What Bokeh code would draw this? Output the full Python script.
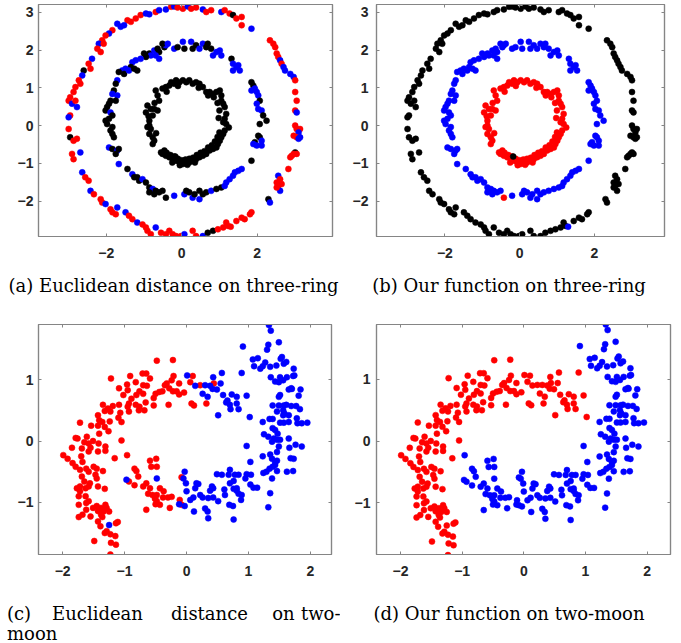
from bokeh.plotting import figure
from bokeh.models import Range1d, LinearAxis, FixedTicker, Label, ColumnDataSource
from bokeh.layouts import column, row
from bokeh.embed import file_html
from bokeh.resources import INLINE

# ---------------- three-ring data (x, y, colour in panel a) ----------------
# outer ring: black in (b)
outer_ring = [
    (-1.09, 2.93, "r"), (-0.95, 2.97, "b"), (-0.86, 2.95, "b"), (-0.69, 3.01, "r"), (-0.60, 3.06, "b"),
    (-0.42, 3.08, "b"), (-0.28, 3.15, "r"), (-0.20, 3.16, "b"), (-0.11, 3.13, "r"), (0.03, 3.10, "r"),
    (0.16, 3.16, "b"), (0.25, 3.10, "r"), (0.38, 3.13, "r"), (0.56, 3.08, "b"), (0.65, 3.01, "r"),
    (0.78, 3.06, "r"), (1.05, 3.01, "b"), (1.14, 3.06, "r"), (1.27, 2.97, "r"), (1.36, 2.93, "k"),
    (1.45, 2.84, "r"), (1.59, 2.88, "r"), (1.59, 2.66, "r"), (1.85, 2.57, "b"),
    (-1.22, 2.84, "r"), (-1.35, 2.75, "r"), (-1.44, 2.79, "r"), (-1.53, 2.66, "b"), (-1.62, 2.62, "b"),
    (-1.71, 2.70, "b"), (-1.84, 2.53, "r"), (-1.93, 2.44, "b"), (-2.02, 2.39, "r"), (-2.11, 2.26, "r"),
    (-2.20, 2.17, "b"), (-2.24, 2.04, "r"), (-2.15, 1.95, "r"), (-2.07, 2.17, "r"), (-2.38, 1.77, "b"),
    (-2.47, 1.64, "r"), (-2.42, 1.51, "r"), (-2.60, 1.46, "k"), (-2.64, 1.33, "b"), (-2.73, 1.20, "r"),
    (-2.69, 1.11, "r"), (-2.82, 1.02, "r"), (-2.87, 0.89, "r"), (-2.96, 0.75, "r"), (-3.00, 0.66, "r"),
    (-2.91, 0.58, "b"), (-2.78, 0.49, "b"), (-2.82, 0.66, "r"), (-2.96, 0.27, "r"), (-3.00, 0.22, "b"),
    (-3.00, -0.09, "r"), (-2.96, -0.31, "k"), (-2.87, -0.40, "r"), (-2.78, -0.35, "r"), (-2.91, -0.75, "r"),
    (-2.69, -0.71, "b"), (-2.87, -0.89, "r"),
    (-2.64, -1.24, "b"), (-2.56, -1.37, "r"), (-2.47, -1.46, "r"), (-2.42, -1.73, "b"), (-2.33, -1.82, "r"),
    (-2.15, -1.95, "r"), (-2.11, -2.04, "r"), (-2.02, -2.08, "b"), (-1.89, -2.22, "r"), (-1.84, -2.30, "r"),
    (-1.75, -2.35, "r"), (-1.71, -2.17, "b"), (-1.49, -2.30, "b"), (-1.40, -2.39, "r"), (-1.31, -2.48, "r"),
    (-1.18, -2.57, "b"), (-1.04, -2.62, "r"), (-0.95, -2.70, "r"), (-0.91, -2.79, "r"), (-0.82, -2.88, "r"),
    (-0.69, -2.70, "b"), (-0.55, -2.84, "r"), (-0.42, -2.88, "r"), (-0.33, -2.79, "r"), (-0.24, -2.88, "r"),
    (-0.15, -2.93, "r"), (-0.02, -2.93, "r"), (0.07, -2.88, "b"), (0.29, -2.79, "r"), (0.38, -2.93, "r"),
    (0.56, -2.93, "b"), (0.69, -2.84, "k"), (0.83, -2.79, "k"), (0.96, -2.75, "r"), (1.10, -2.70, "r"),
    (1.18, -2.57, "r"), (1.23, -2.66, "r"), (1.45, -2.53, "r"), (1.59, -2.44, "r"), (1.67, -2.48, "r"),
    (1.81, -2.35, "r"), (1.85, -2.30, "r"),
    (2.34, 2.26, "r"), (2.43, 2.17, "r"), (2.48, 2.08, "r"), (2.52, 1.91, "r"), (2.56, 1.82, "r"),
    (2.61, 1.73, "b"), (2.65, 1.64, "r"), (2.70, 1.55, "b"), (2.74, 1.46, "b"), (2.88, 1.37, "b"),
    (2.97, 1.29, "b"), (3.01, 1.20, "r"), (3.01, 0.89, "r"), (3.05, 0.66, "r"), (3.01, 0.40, "r"),
    (3.05, 0.35, "b"),
    (3.01, 0.00, "r"), (3.05, -0.09, "r"), (3.14, -0.09, "r"), (3.10, -0.18, "b"), (3.05, -0.31, "r"),
    (2.97, -0.27, "r"), (3.10, -0.35, "b"), (3.14, -0.31, "b"), (3.01, -0.71, "k"), (2.97, -0.75, "r"),
    (2.92, -0.80, "r"), (3.05, -0.75, "r"), (2.88, -0.84, "r"),
    (2.83, -1.15, "r"), (2.56, -1.33, "b"), (2.61, -1.42, "r"), (2.52, -1.51, "r"), (2.56, -1.60, "r"),
    (2.65, -1.55, "r"), (2.61, -1.73, "b"), (2.52, -1.64, "r"), (2.30, -1.95, "k"), (2.34, -2.04, "b"),
]

# middle ring: blue in (b)
middle_ring = [
    (-0.86, 1.91, "k"), (-0.73, 1.99, "b"), (-0.64, 2.04, "k"), (-0.60, 1.95, "k"), (-0.46, 2.08, "k"),
    (-0.42, 2.13, "b"), (-0.51, 2.17, "k"), (-0.37, 2.17, "b"), (-0.60, 1.77, "b"), (-0.69, 1.86, "b"),
    (-0.82, 1.86, "b"), (-0.95, 1.82, "k"), (-1.00, 1.91, "k"), (-1.09, 1.77, "b"), (-1.22, 1.73, "b"),
    (-1.31, 1.68, "b"), (-1.35, 1.55, "k"), (-1.49, 1.51, "b"), (-1.58, 1.46, "b"), (-1.67, 1.42, "k"),
    (-1.53, 1.37, "k"), (-1.40, 1.46, "b"), (-1.26, 1.51, "k"), (-1.18, 1.46, "k"), (-0.20, 2.04, "b"),
    (-0.11, 2.08, "k"), (0.03, 2.22, "b"), (0.07, 2.04, "k"), (0.25, 2.22, "b"), (0.29, 2.04, "k"),
    (0.38, 2.13, "k"), (0.47, 2.04, "b"), (0.56, 2.17, "b"), (0.65, 2.08, "k"), (0.69, 2.17, "k"),
    (0.78, 2.04, "k"), (0.83, 1.86, "b"), (0.92, 1.95, "b"), (1.01, 1.99, "b"), (1.05, 1.86, "b"),
    (1.32, 1.77, "k"), (1.36, 1.64, "b"), (1.45, 1.55, "b"), (1.54, 1.46, "b"), (1.36, 1.46, "b"),
    (1.50, 1.60, "b"),
    (-1.71, 1.20, "b"), (-1.75, 1.11, "k"), (-1.80, 0.93, "k"), (-1.84, 0.84, "b"), (-1.71, 0.80, "b"),
    (-1.75, 0.66, "k"), (-1.89, 0.66, "k"), (-1.93, 0.58, "k"), (-1.98, 0.49, "k"), (-2.02, 0.40, "k"),
    (-1.89, 0.35, "b"), (-1.84, 0.27, "k"), (-1.93, 0.18, "k"), (-2.02, 0.13, "k"), (-1.98, 0.04, "k"),
    (-1.84, -0.04, "k"), (-1.89, -0.13, "k"), (-1.84, -0.22, "k"), (-1.80, -0.31, "k"), (-1.93, -0.58, "b"),
    (-1.84, -0.62, "k"), (-1.71, -0.66, "b"), (-1.67, -0.62, "k"), (-1.75, -0.75, "k"), (-1.67, -1.02, "b"),
    (-1.44, -1.15, "k"), (-1.31, -1.29, "b"), (-1.26, -1.37, "k"), (-1.18, -1.37, "k"), (-1.13, -1.46, "k"),
    (-1.04, -1.42, "b"), (-0.95, -1.51, "k"), (-0.86, -1.64, "k"), (-0.77, -1.68, "b"), (-0.86, -1.77, "k"),
    (-0.73, -1.82, "k"), (-0.69, -1.73, "k"), (-0.60, -1.77, "k"), (-0.51, -1.73, "k"), (-0.20, -1.86, "b"),
    (0.07, -1.82, "b"), (0.12, -1.73, "k"), (0.20, -1.77, "k"), (0.29, -1.91, "b"), (0.34, -1.82, "k"),
    (0.47, -1.95, "b"), (0.47, -1.73, "k"), (0.56, -1.82, "k"), (0.65, -1.77, "k"), (0.78, -1.73, "b"),
    (0.92, -1.68, "k"), (1.05, -1.64, "k"), (1.14, -1.60, "b"), (1.18, -1.51, "b"), (1.27, -1.42, "b"),
    (1.36, -1.33, "b"), (1.41, -1.24, "b"), (1.50, -1.20, "b"), (1.59, -1.15, "b"), (1.85, -0.93, "k"),
    (1.85, 1.15, "k"), (1.90, 1.06, "k"), (1.85, 0.93, "b"), (1.94, 0.98, "b"), (1.99, 0.89, "b"),
    (2.03, 0.80, "b"), (2.07, 0.66, "k"), (1.99, 0.58, "b"), (2.03, 0.44, "b"), (2.12, 0.40, "b"),
    (2.16, 0.27, "k"), (2.25, 0.13, "k"), (2.07, 0.04, "k"), (2.03, -0.27, "k"), (2.07, -0.31, "k"),
    (2.12, -0.40, "b"), (1.94, -0.44, "k"), (1.99, -0.53, "b"), (2.12, -0.53, "b"), (1.90, -0.49, "b"),
]

# inner ring: red in (b), black in (a)
inner_ring = [
    (-0.69, 0.93), (-0.64, 0.80), (-0.60, 0.66), (-0.51, 0.98), (-0.42, 1.02), (-0.33, 1.06), (-0.28, 1.15),
    (-0.20, 1.11), (-0.15, 1.20), (-0.06, 1.15), (0.03, 1.20), (0.12, 1.15), (0.20, 1.20), (0.29, 1.11),
    (0.38, 1.15), (0.47, 1.11), (0.56, 1.02), (0.65, 0.89), (0.74, 0.89), (0.83, 0.84), (0.92, 0.89),
    (1.01, 0.93), (1.05, 0.80), (1.05, 0.66), (1.10, 0.58), (1.14, 0.49), (1.18, 0.31), (1.14, 0.18),
    (1.10, 0.09), (1.18, 0.04), (1.14, -0.13), (1.10, -0.22), (1.05, -0.31), (1.01, -0.40), (0.96, -0.49),
    (0.92, -0.58), (0.83, -0.62), (0.74, -0.66), (0.65, -0.75), (0.56, -0.80), (0.47, -0.84), (0.38, -0.89),
    (0.29, -0.93), (0.20, -0.98), (0.12, -0.98), (0.03, -1.02), (-0.06, -0.98), (-0.15, -0.93), (-0.24, -0.89),
    (-0.33, -0.84), (-0.42, -0.80), (-0.51, -0.75), (-0.46, -0.66), (-0.55, -0.71), (-0.64, 0.40), (-0.73, 0.44),
    (-0.77, 0.27), (-0.86, 0.13), (-0.91, -0.04), (-0.86, -0.22), (-0.77, -0.31), (-0.73, -0.40), (-0.77, -0.49),
    (-0.82, 0.44), (-0.91, 0.53), (-0.95, 0.35), (-0.86, 0.00), (-0.82, -0.09), (-0.40, -0.72), (-0.30, -0.78),
    (-0.20, -0.82), (-0.10, -0.88), (0.00, -0.92), (0.10, -0.90), (0.20, -0.88), (0.30, -0.85), (0.40, -0.78),
    (0.50, -0.72), (0.60, -0.68), (0.70, -0.58), (0.80, -0.52), (0.88, -0.42), (0.95, -0.30), (1.00, -0.18),
    (-0.05, -1.05), (0.15, -1.04), (0.35, -0.98), (-0.25, -0.98), (0.98, 0.20), (1.00, 0.40), (0.95, 0.60),
    (0.85, 0.75), (0.70, 0.80), (0.45, 1.00), (-0.10, 1.05), (-0.40, 0.90), (-0.72, 0.60), (-0.68, -0.20),
    (-0.88, 0.25), (1.25, -0.05),
]

# points whose (b) colour differs from their ring: (x, y, colour a, colour b)
odd_points = [(-0.17, -0.82, "k", "k"), (-0.42, -1.91, "k", "r"), (1.30, -2.68, "r", "b")]

# ---------------- two-moon data ----------------
# red in both (c) and (d)
moon_red_both = [
    (-0.48, 1.31), (-0.22, 1.32), (-1.22, 1.02), (-1.09, 0.86), (-0.96, 0.92), (-0.91, 1.06), (-0.71, 1.10),
    (-0.65, 1.10), (-0.59, 1.02), (-0.82, 0.96), (-0.95, 0.83), (-0.70, 0.91), (-0.64, 0.90), (-0.76, 0.81),
    (-0.70, 0.77), (-0.81, 0.75), (-0.89, 0.69), (-1.02, 0.75), (-0.93, 0.61), (-0.82, 0.59), (-0.76, 0.56),
    (-0.66, 0.63), (-0.53, 0.70), (-0.50, 0.77), (-0.44, 0.80), (-0.39, 0.81), (-0.32, 0.94), (-0.35, 0.91),
    (-0.21, 1.06), (-0.24, 0.99), (-0.28, 0.86), (-0.22, 0.81), (-0.16, 0.81), (-0.12, 0.76), (-0.04, 0.79),
    (-0.12, 0.94), (0.10, 1.06), (0.06, 0.96), (0.08, 0.61), (0.12, 0.58), (0.32, 0.61), (0.22, 0.91),
    (0.44, 0.94), (-0.29, 0.59), (-0.53, 0.58), (-0.77, 0.50), (-0.68, 0.50), (-0.93, 0.48), (-0.95, 0.56),
    (-1.09, 0.59), (-1.10, 0.38), (-1.05, 0.31), (-1.07, 0.46), (-1.23, 0.48), (-1.19, 0.57), (-1.27, 0.53),
    (-1.35, 0.59), (-1.32, 0.49), (-1.43, 0.42), (-1.41, 0.34), (-1.36, 0.31), (-1.24, 0.32), (-1.32, 0.23),
    (-1.26, 0.16), (-1.41, 0.12), (-1.54, 0.25), (-1.43, 0.25), (-1.72, 0.30), (-1.61, 0.07), (-1.51, 0.00),
    (-1.58, -0.04), (-1.55, -0.11), (-1.42, -0.04), (-1.31, -0.09), (-1.31, -0.16), (-1.43, -0.17),
    (-1.58, -0.17), (-1.65, -0.02), (-1.69, -0.12), (-1.70, -0.25), (-1.68, -0.34), (-1.76, 0.04),
    (-1.79, 0.05), (-1.85, -0.11), (-1.99, -0.23), (-1.92, -0.29), (-1.84, -0.36), (-1.79, -0.42),
    (-1.72, -0.47), (-1.69, -0.58), (-1.62, -0.45), (-1.58, -0.50), (-1.65, -0.66), (-1.72, -0.74),
    (-1.63, -0.77), (-1.58, -0.74), (-1.56, -0.69), (-1.50, -0.42), (-1.45, -0.45), (-1.47, -0.55),
    (-1.45, -0.61), (-1.43, -0.74), (-1.35, -0.49), (-1.32, -0.78), (-1.77, -0.77), (-1.72, -0.82),
    (-1.74, -0.90), (-1.63, -0.90), (-1.62, -1.01), (-1.62, -1.12), (-1.58, -0.98), (-1.74, -1.04),
    (-1.74, -1.24), (-1.68, -1.20), (-1.55, -1.23), (-1.51, -1.09), (-1.45, -1.06), (-1.43, -1.14),
    (-1.38, -1.09), (-1.34, -1.15), (-1.31, -1.04), (-1.29, -1.09), (-1.25, -1.15), (-1.38, -1.20),
    (-1.36, -1.24), (-1.43, -1.31), (-1.39, -1.39), (-1.49, -1.63), (-1.32, -1.50), (-1.29, -1.47),
    (-1.23, -1.52), (-1.14, -1.34), (-1.11, -1.32), (-1.15, -1.55), (-1.22, -1.66), (-1.14, -1.69),
    (-1.23, -1.85), (-1.05, 0.01), (-1.16, -0.28),
]
# blue in (c), red in (d)
moon_blue_c_red_d = [
    (0.01, 1.07), (-1.25, -1.37), (0.26, 0.77), (0.34, 0.72), (0.30, 0.91), (0.38, 0.90), (0.49, 0.84),
    (0.55, 0.94), (0.57, 1.11), (0.43, 1.04), (0.42, 0.85), (0.59, 0.75), (0.64, 0.63), (0.66, 0.66),
    (0.70, 0.59), (0.71, 0.52), (0.81, 0.61), (0.81, 0.72), (0.84, 0.52), (0.89, 1.11), (0.51, 0.42),
    (0.73, 0.76), (0.97, 0.74), (1.02, 0.39), (0.14, 0.90),
]
# red in (c), blue in (d)
moon_red_c_blue_d = [
    (-0.96, -0.23), (-0.93, -0.66), (-0.84, -0.45), (-0.81, -0.49), (-0.78, -0.58), (-0.84, -0.72),
    (-0.70, -0.74), (-0.65, -0.69), (-0.59, -0.32), (-0.49, -0.29), (-0.48, -0.42), (-0.57, -0.42),
    (-0.59, -0.77), (-0.62, -0.86), (-0.55, -0.88), (-0.51, -0.94), (-0.48, -0.98), (-0.43, -1.04),
    (-0.50, -1.03), (-0.38, -0.92), (-0.37, -0.82), (-0.43, -0.77), (-0.30, -0.92), (-0.24, -0.91),
    (-0.27, -1.09), (-0.65, -1.12), (-0.48, -0.88), (-0.11, -0.96), (-0.08, -1.04), (-0.08, -0.59),
]
# blue in both
moon_blue_both = [
    (-0.97, -0.63), (-0.48, -0.61), (-0.03, -0.50), (-0.05, -0.61), (-0.01, -0.69), (0.00, -0.82),
    (-0.12, -1.03), (-0.03, -1.06), (0.06, -0.96), (0.11, -0.92), (0.14, -0.77), (0.16, -0.69), (0.19, -0.70),
    (0.12, -1.15), (0.22, -0.88), (0.26, -0.92), (0.30, -1.10), (0.34, -1.15), (0.35, -1.26), (0.38, -0.81),
    (0.41, -0.74), (0.43, -0.77), (0.35, -0.93), (0.43, -0.92), (0.49, -0.54), (0.57, -0.55), (0.61, -0.79),
    (0.62, -0.88), (0.51, -0.98), (0.70, -0.47), (0.68, -0.55), (0.70, -0.69), (0.69, -1.04), (0.75, -1.06),
    (0.76, -1.28), (0.78, -0.55), (0.76, -0.65), (0.76, -0.78), (0.81, -0.81), (0.84, -0.86), (0.88, -0.96),
    (0.89, -0.88), (0.84, -0.55), (0.81, -0.77), (0.95, -0.61), (0.97, -0.54), (1.03, -0.71), (1.04, -0.55),
    (1.08, -0.76), (1.14, -0.76), (1.03, -0.34), (0.97, -0.08),
    (0.91, 1.54), (1.07, 1.33), (1.09, 1.22), (1.15, 1.35), (1.19, 1.18), (1.23, 1.22), (1.27, 1.28),
    (1.30, 1.49), (1.32, 1.57), (1.33, 1.89), (1.36, 1.80), (1.35, 1.21), (1.36, 1.04), (1.43, 0.97),
    (1.45, 1.23), (1.49, 1.61), (1.52, 1.34), (1.54, 1.37), (1.57, 1.26), (1.61, 1.29), (1.62, 1.04),
    (1.56, 0.99), (1.49, 0.96), (1.51, 1.04), (1.65, 0.84), (1.69, 0.86), (1.73, 1.18), (1.74, 1.07),
    (1.72, 1.06), (1.70, 0.85), (1.84, 0.84), (1.81, 0.74), (1.83, 0.52), (1.77, 0.57), (1.69, 0.57),
    (1.79, 0.29), (1.86, 0.29), (1.95, 0.30), (1.51, 0.75), (1.49, 0.72), (1.57, 0.58), (1.61, 0.59),
    (1.49, 0.58), (1.39, 0.58), (1.46, 0.48), (1.56, 0.50), (1.58, 0.45), (1.56, 0.42), (1.65, 0.42),
    (1.51, 0.30), (1.57, 0.30), (1.65, 0.31), (1.78, 0.37), (1.23, 0.31), (1.34, 0.36), (1.39, 0.36),
    (1.43, 0.18), (1.39, 0.21), (1.47, 0.12), (1.25, 0.11), (1.32, 0.07), (1.41, 0.04), (1.46, 0.02),
    (1.51, 0.02), (1.38, -0.01), (1.49, -0.09), (1.46, -0.18), (1.65, 0.04), (1.66, -0.11), (1.76, -0.06),
    (1.86, -0.09), (1.23, -0.25), (1.35, -0.22), (1.38, -0.29), (1.43, -0.34), (1.46, -0.32), (1.68, -0.28),
    (1.73, -0.29), (1.24, -0.52), (1.29, -0.50), (1.34, -0.45), (1.39, -0.42), (1.43, -0.39), (1.38, -0.61),
    (1.46, -0.49), (1.62, -0.50), (1.72, -0.49), (1.35, -0.85), (1.32, -1.08),
]

ring_xticks = [-2, 0, 2]
ring_yticks = [-2, -1, 0, 1, 2, 3]
moon_xticks = [-2, -1, 0, 1, 2]
moon_yticks = [-1, 0, 1]

caption_a = "(a) Euclidean distance on three-ring"
caption_b = "(b) Our function on three-ring"
caption_c_words = ["(c)", "Euclidean", "distance", "on", "two-"]
caption_c_line2 = "moon"
caption_d = "(d) Our function on two-moon"

COL = {"r": "#ff0000", "b": "#0000ff", "k": "#000000"}
GRAY = "#858585"
TXT = "#262626"
CAP_FONT = "DejaVu Serif"
CAP_SIZE = "18px"


def make_panel(width, height, borders, xr, yr, xticks, yticks, ystand):
    l, r, t, b = borders
    p = figure(width=width, height=height, x_range=Range1d(*xr), y_range=Range1d(*yr),
               output_backend="svg", toolbar_location=None,
               min_border_left=l, min_border_right=r, min_border_top=t, min_border_bottom=b,
               x_axis_type=None, y_axis_type=None)
    p.outline_line_color = GRAY
    p.outline_line_width = 1.2
    p.background_fill_color = "white"
    p.border_fill_color = "white"
    for side, ticks, show in (("below", xticks, True), ("left", yticks, True),
                              ("above", xticks, False), ("right", yticks, False)):
        ax = LinearAxis(ticker=FixedTicker(ticks=ticks))
        ax.major_tick_in = 3
        ax.major_tick_out = 0
        ax.minor_tick_in = 0
        ax.minor_tick_out = 0
        ax.major_tick_line_color = GRAY
        ax.axis_line_color = GRAY
        ax.axis_line_width = 1.2
        if show:
            ax.major_label_text_font = "Liberation Sans"
            ax.major_label_text_font_size = "14px"
            ax.major_label_text_font_style = "bold"
            ax.major_label_text_color = TXT
            ax.major_label_standoff = 11 if side == "below" else ystand
        else:
            ax.major_label_text_font_size = "1px"
            ax.major_label_text_color = None
            ax.major_label_standoff = 0
        p.add_layout(ax, side)
    return p


def caption_panel(width, height):
    p = figure(width=width, height=height, x_range=Range1d(0, width), y_range=Range1d(height, 0),
               output_backend="svg", toolbar_location=None,
               min_border_left=0, min_border_right=0, min_border_top=0, min_border_bottom=0,
               x_axis_type=None, y_axis_type=None)
    p.outline_line_color = None
    p.background_fill_color = "white"
    p.border_fill_color = "white"
    p.grid.visible = False
    return p


def scatter(p, pts, colors):
    src = ColumnDataSource(dict(x=[q[0] for q in pts], y=[q[1] for q in pts], c=colors))
    p.scatter("x", "y", source=src, size=6, fill_color="c", line_color="c", line_width=0.5)


def caption(p, text, x, y, align="left"):
    p.add_layout(Label(x=x, y=y, text=text,
                       text_font=CAP_FONT, text_font_size=CAP_SIZE, text_color="#000000",
                       text_align=align, text_baseline="alphabetic"))


ring_pts = [(q[0], q[1]) for q in outer_ring] + [(q[0], q[1]) for q in middle_ring] + inner_ring + \
           [(q[0], q[1]) for q in odd_points]
cols_a = [COL[q[2]] for q in outer_ring] + [COL[q[2]] for q in middle_ring] + \
         [COL["k"]] * len(inner_ring) + [COL[q[2]] for q in odd_points]
cols_b = [COL["k"]] * len(outer_ring) + [COL["b"]] * len(middle_ring) + \
         [COL["r"]] * len(inner_ring) + [COL[q[3]] for q in odd_points]

moon_pts = moon_red_both + moon_blue_c_red_d + moon_red_c_blue_d + moon_blue_both
cols_c = [COL["r"]] * len(moon_red_both) + [COL["b"]] * len(moon_blue_c_red_d) + \
         [COL["r"]] * len(moon_red_c_blue_d) + [COL["b"]] * len(moon_blue_both)
cols_d = [COL["r"]] * len(moon_red_both) + [COL["r"]] * len(moon_blue_c_red_d) + \
         [COL["b"]] * len(moon_red_c_blue_d) + [COL["b"]] * len(moon_blue_both)

# ---------- panels ----------
pa = make_panel(340, 266, (38, 8, 4, 30), (-3.8, 4.0), (-2.94, 3.21), ring_xticks, ring_yticks, 5)
scatter(pa, ring_pts, cols_a)
pb = make_panel(341, 266, (36, 17, 4, 30), (-3.83, 3.88), (-2.94, 3.21), ring_xticks, ring_yticks, 8)
scatter(pb, ring_pts, cols_b)

pc = make_panel(340, 285, (38, 9, 24, 30), (-2.39, 2.34), (-1.85, 1.90), moon_xticks, moon_yticks, 5)
scatter(pc, moon_pts, cols_c)
pd = make_panel(341, 285, (36, 11, 24, 31), (-2.39, 2.38), (-1.84, 1.89), moon_xticks, moon_yticks, 6)
scatter(pd, moon_pts, cols_d)

# ---------- captions ----------
ca = caption_panel(340, 34)
caption(ca, caption_a, 173, 19, "center")
cb = caption_panel(341, 34)
caption(cb, caption_b, 168.5, 19, "center")

cc = caption_panel(340, 58)
caption(cc, caption_c_words[0], 6.5, 28, "left")
caption(cc, caption_c_words[1], 97, 28, "center")
caption(cc, caption_c_words[2], 209, 28, "center")
caption(cc, caption_c_words[3], 283, 28, "center")
caption(cc, caption_c_words[4], 340, 28, "right")
caption(cc, caption_c_line2, 6.5, 48, "left")
cd = caption_panel(341, 58)
caption(cd, caption_d, 168.5, 28, "center")

layout = column(row(pa, pb), row(ca, cb), row(pc, pd), row(cc, cd))
open("out.html", "w").write(file_html(layout, INLINE))
